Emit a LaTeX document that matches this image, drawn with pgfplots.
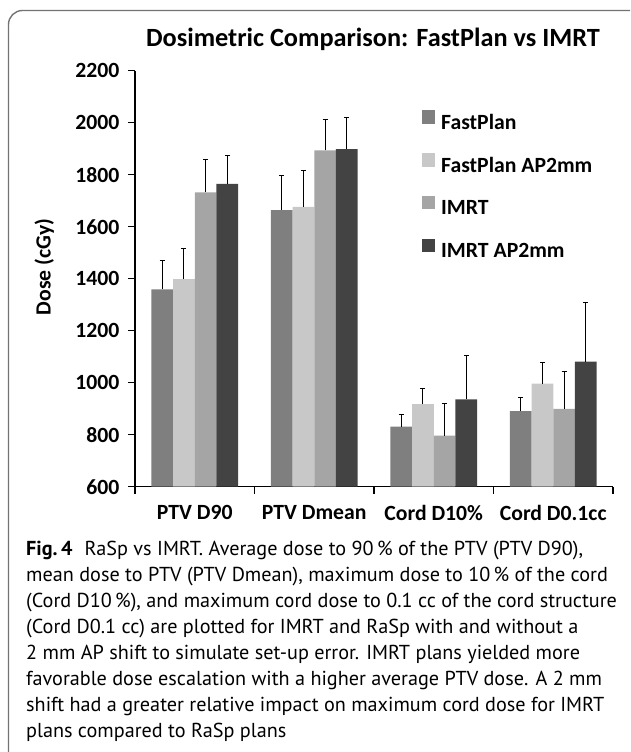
\documentclass[border=0pt]{standalone}
\usepackage{fontspec}
\setmainfont{Carlito}
\newfontfamily\capfont{PT Sans}
\usepackage{pgfplots}
\usepackage{pgfplotstable}
\pgfplotsset{compat=1.18}

\definecolor{cfp}{HTML}{7F7F7F}
\definecolor{cfpap}{HTML}{C8C8C8}
\definecolor{cimrt}{HTML}{A5A5A5}
\definecolor{cimrtap}{HTML}{434343}

% mean dose and +SD per structure (cGy)
\pgfplotstableread{
x fp   fperr fpap fpaperr imrt imrterr imrtap imrtaperr
0 1359 110   1398 119     1732 128     1765   108
1 1664 132   1676 141     1894 118     1898   123
2 831  47    918  58      796  125     936    168
3 891  53    996  81      899  145     1081   229
}\dosetable

\newcommand{\chartfont}{\bfseries\fontsize{21.7}{26}\selectfont}

\begin{document}
\begin{tikzpicture}
\useasboundingbox (0,0) rectangle (630pt,752pt);
\begin{scope}[x=1pt,y=1pt]
  \clip (0,0) rectangle (630,752);
  \draw[black!55, line width=1.4pt, rounded corners=14pt] (8.5,741.5) rectangle (660,-30);
  \node[font=\bfseries\fontsize{26.3}{30}\selectfont, anchor=base] at (373,705) {Dosimetric Comparison: FastPlan vs IMRT};
  \begin{scope}[font=\capfont\fontsize{20.2}{26}\selectfont]
    \node[anchor=base west, inner sep=0pt] at (26,196) {\textbf{Fig.\,4}\hspace{0.6em}RaSp vs IMRT. Average dose to 90\,\% of the PTV (PTV D90),};
    \node[anchor=base west, inner sep=0pt] at (26,170) {mean dose to PTV (PTV Dmean), maximum dose to 10\,\% of the cord};
    \node[anchor=base west, inner sep=0pt] at (26,144) {(Cord D10\,\%), and maximum cord dose to 0.1 cc of the cord structure};
    \node[anchor=base west, inner sep=0pt] at (26,118) {(Cord D0.1 cc) are plotted for IMRT and RaSp with and without a};
    \node[anchor=base west, inner sep=0pt] at (26,92) {2 mm AP shift to simulate set-up error. IMRT plans yielded more};
    \node[anchor=base west, inner sep=0pt] at (26,66) {favorable dose escalation with a higher average PTV dose. A 2 mm};
    \node[anchor=base west, inner sep=0pt] at (26,40) {shift had a greater relative impact on maximum cord dose for IMRT};
    \node[anchor=base west, inner sep=0pt] at (26,14) {plans compared to RaSp plans};
  \end{scope}
\end{scope}

\begin{axis}[
    at={(135pt,265.3pt)}, anchor=south west,
    scale only axis,
    width=478pt, height=416pt,
    ybar=0pt, bar width=21.7pt,
    xmin=-0.5, xmax=3.5,
    ymin=600, ymax=2200,
    ytick={600,800,...,2200},
    xtick={0,1,2,3},
    xticklabels={PTV D90, PTV Dmean, Cord D10\%, Cord D0.1cc},
    minor xtick={-0.5,0.5,1.5,2.5,3.5},
    major x tick style={draw=none},
    minor x tick style={black, line width=1.2pt},
    y tick style={black, line width=1.2pt},
    tick align=outside,
    major tick length=7pt, minor tick length=7pt,
    axis lines*=left,
    axis line style={black, line width=1.2pt},
    ticklabel style={font=\chartfont},
    /pgf/number format/assume math mode=true,
    /pgf/number format/1000 sep={},
    yticklabel style={xshift=-5pt},
    xticklabel style={yshift=-8pt},
    ylabel={Dose (cGy)},
    ylabel style={font=\chartfont, at={(axis description cs:-0.19,0.528)}, anchor=center},
    legend style={draw=none, fill=none, at={(rel axis cs:0.5998,0.905)}, anchor=north west,
                  font=\chartfont, row sep=20pt, inner sep=0pt, column sep=6pt,
                  nodes={inner sep=0pt, text height=15pt, text depth=4pt}},
    legend cell align=left,
    legend image code/.code={\fill[#1] (0pt,0pt) rectangle (13.3pt,13.3pt);},
    clip=false,
    error bars/y dir=plus,
    error bars/y explicit,
    error bars/error bar style={draw=black, line width=1.1pt},
    error bars/error mark options={rotate=90, draw=black, line width=1.1pt, mark size=2.5pt},
]
\addplot[fill=cfp, draw=none] table[x=x, y=fp, y error=fperr] {\dosetable};
\addplot[fill=cfpap, draw=none] table[x=x, y=fpap, y error=fpaperr] {\dosetable};
\addplot[fill=cimrt, draw=none] table[x=x, y=imrt, y error=imrterr] {\dosetable};
\addplot[fill=cimrtap, draw=none] table[x=x, y=imrtap, y error=imrtaperr] {\dosetable};
\legend{FastPlan, FastPlan AP2mm, IMRT, IMRT AP2mm}
\end{axis}
\end{tikzpicture}
\end{document}
